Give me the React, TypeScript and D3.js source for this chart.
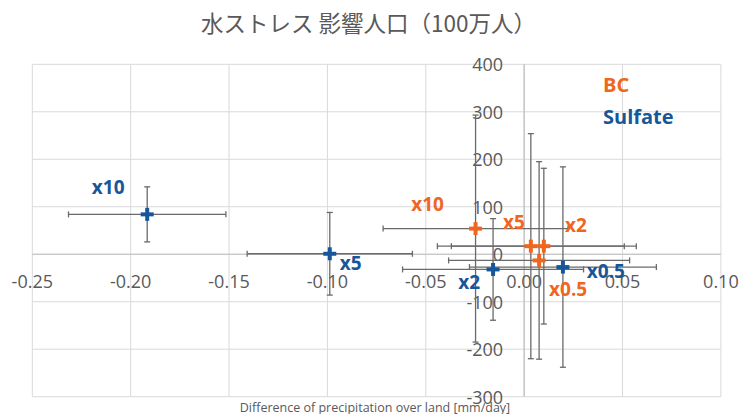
import React from "react";
import * as d3 from "d3";

// Point labels (same order for both series)
const pointLabels = ["x10", "x5", "x2", "x0.5"];

// BC series: mean change and ± error
const bcX = [-0.0247, 0.0034, 0.01, 0.0076];
const bcY = [54, 17, 17, -13];
const bcXErr = [0.047, 0.0475, 0.047, 0.046];
const bcYErr = [239, 237, 164, 208];

// Sulfate series: mean change and ± error
const sulfateX = [-0.1916, -0.0988, -0.0158, 0.0197];
const sulfateY = [84, 1, -32, -27];
const sulfateXErr = [0.04, 0.042, 0.046, 0.0475];
const sulfateYErr = [58, 87, 107, 211];

// Axis ticks
const xTicks = [-0.25, -0.2, -0.15, -0.1, -0.05, 0, 0.05, 0.1];
const yTicks = [-300, -200, -100, 0, 100, 200, 300, 400];

const title = "水ストレス 影響人口（100万人）";
const xTitle = "Difference of precipitation over land [mm/day]";

// Label placement (pixel offsets from each point)
const bcLabelOffsets: [number, number][] = [
  [-48, -25],
  [-17, -24],
  [32, -21],
  [29, 29],
];
const sulfateLabelOffsets: [number, number][] = [
  [-39, -27],
  [21, 9],
  [-24, 13],
  [43, 4],
];

const W = 740;
const H = 414;
const ORANGE = "#F0661F";
const BLUE = "#175799";
const TEXT = "#595959";
const GRID = "#D9D9D9";
const AXIS = "#BFBFBF";
const ERR = "#6A6A6A";
const FONT = "'Open Sans', 'Noto Sans', sans-serif";

const x = d3.scaleLinear().domain([-0.25, 0.1]).range([32.3, 720.9]);
const y = d3.scaleLinear().domain([-300, 400]).range([396.7, 64.3]);

// plain hyphen-minus for negative tick values
const fmtX = (v: number) => d3.format(".2f")(v).replace("\u2212", "-");
const fmtY = (v: number) => d3.format("d")(v).replace("\u2212", "-");

type Pt = { label: string; x: number; y: number; ex: number; ey: number; off: [number, number] };

const build = (
  xs: number[],
  ys: number[],
  exs: number[],
  eys: number[],
  offs: [number, number][]
): Pt[] =>
  xs.map((v, i) => ({ label: pointLabels[i], x: v, y: ys[i], ex: exs[i], ey: eys[i], off: offs[i] }));

const bc = build(bcX, bcY, bcXErr, bcYErr, bcLabelOffsets);
const sulfate = build(sulfateX, sulfateY, sulfateXErr, sulfateYErr, sulfateLabelOffsets);

const CAP = 3;

function ErrorBars({ pts }: { pts: Pt[] }) {
  return (
    <g stroke={ERR} strokeWidth={1.3} fill="none">
      {pts.map((p, i) => {
        const cx = x(p.x);
        const cy = y(p.y);
        const x0 = x(p.x - p.ex);
        const x1 = x(p.x + p.ex);
        const y0 = y(p.y - p.ey);
        const y1 = y(p.y + p.ey);
        return (
          <g key={i}>
            <line x1={x0} x2={x1} y1={cy} y2={cy} />
            <line x1={x0} x2={x0} y1={cy - CAP} y2={cy + CAP} />
            <line x1={x1} x2={x1} y1={cy - CAP} y2={cy + CAP} />
            <line x1={cx} x2={cx} y1={y0} y2={y1} />
            <line x1={cx - CAP} x2={cx + CAP} y1={y0} y2={y0} />
            <line x1={cx - CAP} x2={cx + CAP} y1={y1} y2={y1} />
          </g>
        );
      })}
    </g>
  );
}

function Markers({ pts, color }: { pts: Pt[]; color: string }) {
  const s = 6.5;
  return (
    <g stroke={color} strokeWidth={4}>
      {pts.map((p, i) => {
        const cx = x(p.x);
        const cy = y(p.y);
        return (
          <g key={i}>
            <line x1={cx - s} x2={cx + s} y1={cy} y2={cy} />
            <line x1={cx} x2={cx} y1={cy - s} y2={cy + s} />
          </g>
        );
      })}
    </g>
  );
}

function Labels({ pts, color }: { pts: Pt[]; color: string }) {
  return (
    <g fill={color} fontFamily={FONT} fontWeight={700} fontSize={19} textAnchor="middle">
      {pts.map((p, i) => (
        <text key={i} x={x(p.x) + p.off[0]} y={y(p.y) + p.off[1]} dominantBaseline="central">
          {p.label}
        </text>
      ))}
    </g>
  );
}

export default function App() {
  return (
    <svg
      width={W}
      height={H}
      style={{ position: "fixed", left: 0, top: 0, background: "#fff" }}
      fontFamily={FONT}
    >
      <rect width={W} height={H} fill="#fff" />
      {/* gridlines */}
      <g stroke={GRID} strokeWidth={1}>
        {xTicks.map((t) => (
          <line key={"gx" + t} x1={x(t)} x2={x(t)} y1={y(400)} y2={y(-300)} />
        ))}
        {yTicks.map((t) => (
          <line key={"gy" + t} x1={x(-0.25)} x2={x(0.1)} y1={y(t)} y2={y(t)} />
        ))}
      </g>
      {/* axes through the origin */}
      <g stroke={AXIS} strokeWidth={1.2}>
        <line x1={x(0)} x2={x(0)} y1={y(400)} y2={y(-300)} />
        <line x1={x(-0.25)} x2={x(0.1)} y1={y(0)} y2={y(0)} />
      </g>
      {/* tick labels */}
      <g fill={TEXT} fontSize={18}>
        {yTicks.map((t) => (
          <text key={"ly" + t} x={x(0) - 21} y={y(t)} textAnchor="end" dominantBaseline="central">
            {fmtY(t)}
          </text>
        ))}
        {xTicks.map((t) => (
          <text key={"lx" + t} x={x(t)} y={y(0) + 34} textAnchor="middle">
            {fmtX(t)}
          </text>
        ))}
      </g>
      <ErrorBars pts={bc} />
      <ErrorBars pts={sulfate} />
      <Markers pts={bc} color={ORANGE} />
      <Markers pts={sulfate} color={BLUE} />
      <Labels pts={bc} color={ORANGE} />
      <Labels pts={sulfate} color={BLUE} />
      {/* legend */}
      <g fontWeight={700} fontSize={20}>
        <text x={603} y={92} fill={ORANGE}>BC</text>
        <text x={603} y={124} fill={BLUE}>Sulfate</text>
      </g>
      {/* titles */}
      <text
        x={368.5}
        y={32}
        textAnchor="middle"
        fill={TEXT}
        fontSize={22.5}
        fontFamily="'Noto Sans CJK JP', sans-serif"
      >
        {title}
      </text>
      <text x={375} y={411.5} textAnchor="middle" fill={TEXT} fontSize={12.5}>
        {xTitle}
      </text>
    </svg>
  );
}
